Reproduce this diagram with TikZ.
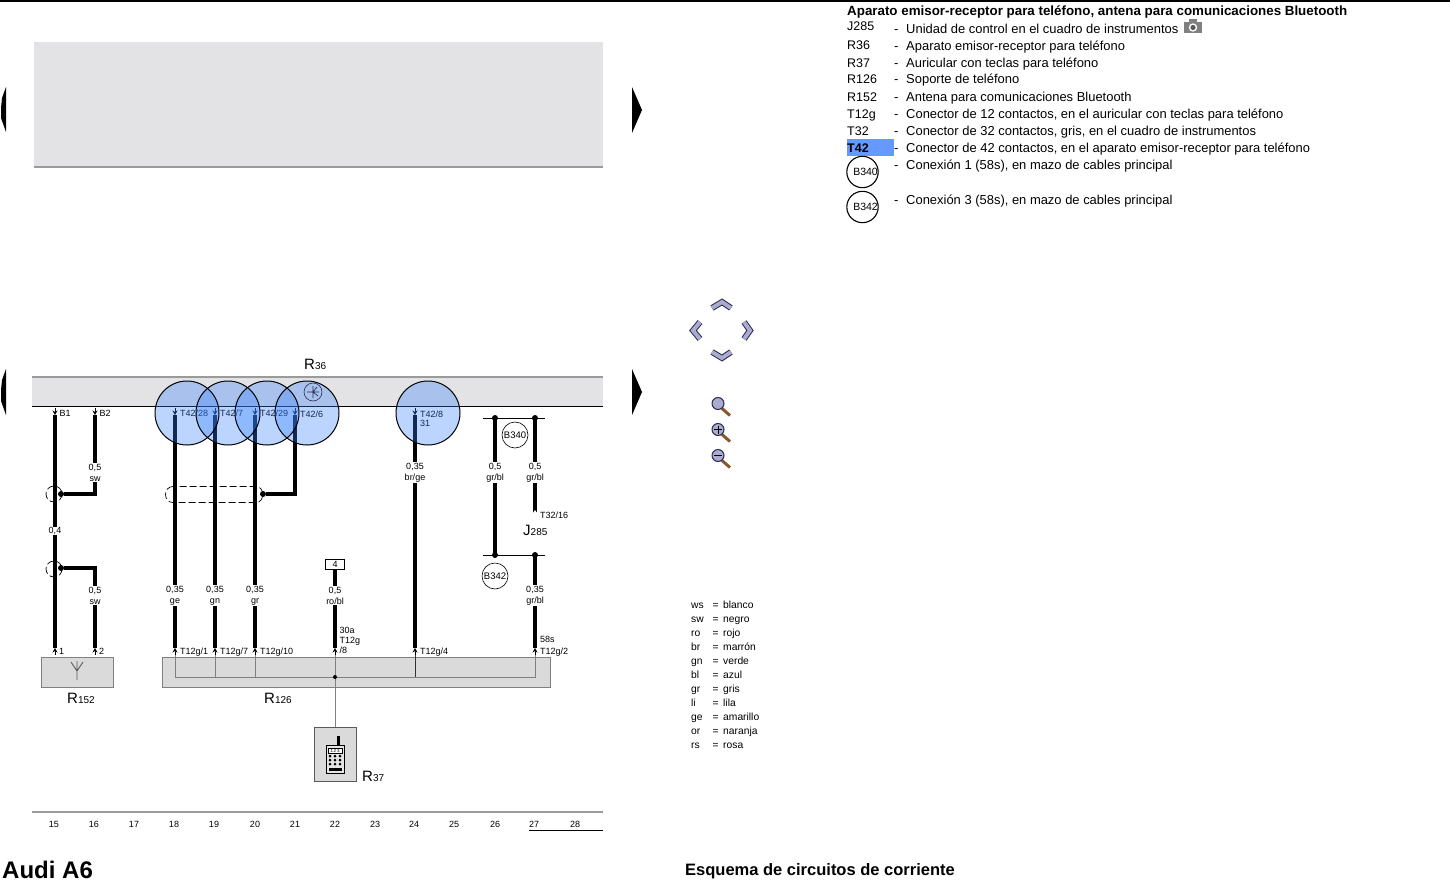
\documentclass[tikz,border=0pt]{standalone}
\usepackage{fontspec}
\setmainfont{Liberation Sans}
\usetikzlibrary{arrows.meta}
\newcommand\fsz[1]{\fontsize{#1}{#1}\selectfont}
\newcommand\refdes[2]{{\fsz{15}#1\fsz{10}#2}}
\definecolor{stipple}{HTML}{E3E2E5}
\definecolor{boxgray}{HTML}{DADADA}
\definecolor{edgegray}{HTML}{808080}
\definecolor{navedge}{HTML}{2A2A50}
\definecolor{navfill}{HTML}{ABABCF}
\definecolor{hilite}{HTML}{6699FF}
\tikzset{
  wire/.style={line width=4.4pt,black},
  thinw/.style={line width=0.9pt,edgegray},
  pinarrow/.style={line width=0.8pt,-{Stealth[length=4.5pt,width=5pt]}},
  lbl/.style={font=\fsz{9},fill=white,inner sep=0.6pt,align=center},
  tag/.style={font=\fsz{9},inner sep=0pt,anchor=base west},
  wdot/.style={circle,fill=black,inner sep=0pt,minimum size=6pt},
  spot/.style={fill={rgb,255:red,51;green,128;blue,255},fill opacity=0.33},
  code/.style={font=\fsz{12.5},inner sep=0pt,anchor=base west},
  desc/.style={font=\fsz{12.95},inner sep=0pt,anchor=base west},
  col/.style={font=\fsz{10.3},inner sep=0pt,anchor=base west},
  sheet/.style={font=\fsz{9},inner sep=0pt},
  bubble/.style={circle,draw=black,line width=1.1pt,minimum size=30pt,inner sep=0pt,font=\fsz{10.5},text depth=0pt},
  splice/.style={circle,draw=black,line width=0.6pt,minimum size=26pt,inner sep=0pt,font=\fsz{9.5}},
  shield/.style={line width=0.7pt,dash pattern=on 7pt off 3pt,black},
  des/.style={inner sep=0pt,anchor=base west},
  compbox/.style={draw=edgegray,line width=1pt,fill=boxgray},
  chev/.style={line width=6pt,navedge,miter limit=10},
  chevin/.style={line width=4pt,navfill,miter limit=10}
}
\begin{document}
\begin{tikzpicture}[x=1pt,y=-1pt]
\useasboundingbox (0,0) rectangle (1450,883);
\fill[white] (0,0) rectangle (1450,883);
\draw[line width=1.6pt,black] (0,0.8) -- (1450,0.8);

% upper empty sheet
\fill[stipple] (34,42) rectangle (603,167);
\draw[line width=1.2pt,edgegray!80] (34,167) -- (603,167);
\fill[black] (6,87) -- (2,98) -- (1,108) -- (1,118) -- (6,132) -- cycle;
\fill[black] (632,87) -- (642,110) -- (632,133) -- cycle;

% R36 band
\fill[stipple] (32,377) rectangle (603,406);
\draw[line width=1.2pt,edgegray!80] (32,377) -- (603,377);
\draw[line width=1pt,black] (32,406) -- (603,406);
\fill[black] (6,369) -- (2,380) -- (1,390) -- (1,401) -- (6,415) -- cycle;
\fill[black] (632,369) -- (642,392) -- (632,415) -- cycle;
\node[des] (r36) at (304,369) {\refdes{R}{36}};

% component boxes
\node[compbox,minimum width=72pt,minimum height=30pt,inner sep=0pt] (r152) at (77,672) {};
\node[compbox,minimum width=388pt,minimum height=30pt,inner sep=0pt] (r126) at (356,672) {};
\node[compbox,draw=edgegray!70!black,minimum width=42pt,minimum height=54pt,inner sep=0pt] (r37) at (335,754) {};
\node[des] (l152) at (67,703) {\refdes{R}{152}};
\node[des] (l126) at (264,703) {\refdes{R}{126}};
\node[des] (l37) at (362,781) {\refdes{R}{37}};
\node[des] (l285) at (523,535) {\refdes{J}{285}};

% named wire ends
\foreach \n/\x in {a/55,b/95,c/175,d/215,e/255,f/295,g/415,h/535}{
  \coordinate (top\n) at (\x,415);
  \coordinate (pin\n) at (\x,407.5);
}
\foreach \n/\x in {a/55,b/95,c/175,d/215,e/255,k/335,g/415,h/535}{
  \coordinate (bot\n) at (\x,648);
  \coordinate (bin\n) at (\x,655);
}

% wires
\draw[wire] (topa) -- (bota);
\node[wdot] (da) at (61,494) {};
\node[wdot] (db) at (61,568) {};
\node[wdot] (df) at (263,494) {};
\draw[wire] (topb) -- (95,494) -- (da);
\draw[wire] (db) -- (95,568) -- (botb);
\draw[wire] (topc) -- (botc);
\draw[wire] (topd) -- (botd);
\draw[wire] (tope) -- (bote);
\draw[wire] (topf) -- (295,494) -- (df);
\draw[wire] (topg) -- (botg);
\node[draw=black,line width=0.7pt,fill=white,minimum width=19pt,minimum height=10pt,inner sep=0pt,font=\fsz{9}] (n4) at (335,564) {4};
\draw[wire] (n4) -- (botk);

% splices
\coordinate (s340a) at (495,418);
\coordinate (s340b) at (535,418);
\coordinate (s340l) at (483,418);
\coordinate (s340r) at (545,418);
\coordinate (s342a) at (495,555);
\coordinate (s342b) at (535,555);
\coordinate (s342l) at (483,555);
\coordinate (s342r) at (545,555);
\draw[line width=0.7pt] (s340l) -- (s340r);
\draw[line width=0.7pt] (s342l) -- (s342r);
\draw[wire] (s340a) -- (s342a);
\coordinate (t3216) at (535,514);
\draw[wire] (s340b) -- (t3216);
\draw[wire] (s342b) -- (both);
\foreach \c in {s340a,s340b,s342a,s342b}{\fill (\c) circle[radius=3];}
\fill[white] (535,510) -- (531.5,515) -- (538.5,515) -- cycle;
\node[splice] (b340) at (515,435) {B340};
\node[splice] (b342) at (495,576) {B342};

% shields
\draw[shield] (54,494) circle[radius=8];
\draw[shield] (54,569) circle[radius=8];
\draw[shield] (173,486.5) .. controls (163,486.5) and (163,502.5) .. (173,502.5) -- (256,502.5) .. controls (265,502.5) and (265,486.5) .. (256,486.5) -- cycle;

% wire labels
\node[lbl] (w1) at (55,531) {0,4};
\node[lbl] (w2) at (95,472.5) {0,5\\[2pt]sw};
\node[lbl] (w3) at (95,595.5) {0,5\\[2pt]sw};
\node[lbl] (w4) at (175,595.5) {0,35\\[2pt]ge};
\node[lbl] (w5) at (215,595.5) {0,35\\[2pt]gn};
\node[lbl] (w6) at (255,595.5) {0,35\\[2pt]gr};
\node[lbl] (w7) at (335,595.5) {0,5\\[2pt]ro/bl};
\node[lbl] (w8) at (415,472.5) {0,35\\[2pt]br/ge};
\node[lbl] (w9) at (495,472.5) {0,5\\[2pt]gr/bl};
\node[lbl] (w10) at (535,472.5) {0,5\\[2pt]gr/bl};
\node[lbl] (w11) at (535,595.5) {0,35\\[2pt]gr/bl};

% pin arrows and names
\foreach \n in {a,b,c,d,e,f,g}{\draw[pinarrow] (pin\n) -- (top\n);}
\foreach \n in {a,b,c,d,e,k,g,h}{\draw[pinarrow] (bin\n) -- (bot\n);}
\node[tag] (tb1) at (59.5,416) {B1};
\node[tag] (tb2) at (99.5,416) {B2};
\node[tag] (t28) at (180,416) {T42/28};
\node[tag] (t7) at (220,416) {T42/7};
\node[tag] (t29) at (260,416) {T42/29};
\node[tag] (t6) at (300,417) {T42/6};
\node[tag] (t8) at (420,417) {T42/8};
\node[tag] (t31) at (420,426) {31};
\node[tag] (t16) at (540,518) {T32/16};
\node[tag] (p1) at (59,654) {1};
\node[tag] (p2) at (99,654) {2};
\node[tag] (g1) at (180,654) {T12g/1};
\node[tag] (g7) at (220,654) {T12g/7};
\node[tag] (g10) at (260,654) {T12g/10};
\node[tag] (g4) at (420,654) {T12g/4};
\node[tag] (g2) at (540,654) {T12g/2};
\node[tag] (s58) at (540,642) {58s};
\node[tag] (a30) at (339.5,633) {30a};
\node[tag] (g8a) at (339.5,643) {T12g};
\node[tag] (g8b) at (339.5,653) {/8};

% inside the holder
\coordinate (bus1) at (175,677);
\coordinate (bus2) at (215,677);
\coordinate (bus3) at (255,677);
\coordinate (bus4) at (335,677);
\coordinate (bus5) at (415,677);
\coordinate (bus6) at (535,677);
\draw[thinw] (175,655) -- (bus1) -- (bus6) -- (535,655);
\draw[thinw] (215,655) -- (bus2);
\draw[thinw] (255,655) -- (bus3);
\draw[line width=0.7pt,black!80] (415,655) -- (bus5);
\draw[thinw] (335,655) -- (r37.north);
\fill (bus4) circle[radius=2];

% antenna in R152
\draw[line width=0.9pt,edgegray!70!black] (77,680) -- (77,671) (71,662) -- (77,671) -- (83,662) (77,671) -- (77,661);

% telephone in R37
\fill[black] (336.5,736) rectangle (339.5,746);
\draw[line width=0.8pt,black,fill=boxgray!70] (326,745) rectangle (344,773);
\draw[line width=0.6pt,black,fill=white] (328,748) rectangle (342,753);
\node[font=\fsz{4.5},inner sep=0pt] (keys) at (335,750.5) {1\,2\,3};
\foreach \x in {330,335,340}{\foreach \y in {756,760,764}{\fill (\x,\y) circle[radius=1.5];}}
\fill (329,768) rectangle (342,771);

% blue highlight circles
\fill[spot] (187,413) circle[radius=32];
\fill[spot] (228,413) circle[radius=32];
\fill[spot] (267,413) circle[radius=32];
\fill[spot] (307,413) circle[radius=32];
\fill[spot] (428,413) circle[radius=32];
\foreach \x in {187,228,267,307,428}{\draw[line width=1pt,black] (\x,413) circle[radius=32];}

% receiver symbol in R36
\draw[line width=0.6pt,navedge] (313,392) circle[radius=9];
\draw[line width=0.7pt,navedge] (313,386) -- (313,398) (307,392) -- (319,392) (313,392) -- (318,396) (313,392) -- (317,387);

% bottom scale
\draw[line width=1.2pt,edgegray!80] (32,812) -- (603,812);
\foreach \t/\x in {15/54,16/94,17/134,18/174,19/214,20/255,21/295,22/335,23/375,24/414,25/454,26/495,27/534,28/575}{
  \node[sheet] (n\t) at (\x,824) {\t};
}
\draw[line width=0.9pt,black] (529,830) -- (603,830);

% footer
\node[inner sep=0pt,anchor=base west,font=\fsz{24}\bfseries] (car) at (2,878) {Audi A6};
\node[inner sep=0pt,anchor=base west,font=\fsz{16.5}\bfseries] (kind) at (685,875) {Esquema de circuitos de corriente};

% legend
\node[inner sep=0pt,anchor=base west,font=\fsz{13.35}\bfseries] (title) at (847,15.5) {Aparato emisor-receptor para teléfono, antena para comunicaciones Bluetooth};
\fill[hilite] (847,139) rectangle (894,155.5);
\foreach \y/\d/\c/\m [count=\i] in {
 31/33.5/J285/Unidad de control en el cuadro de instrumentos,
 50/50.5/R36/Aparato emisor-receptor para teléfono,
 67/67/R37/Auricular con teclas para teléfono,
 84/84/R126/Soporte de teléfono,
 101/101/R152/Antena para comunicaciones Bluetooth,
 118/118.5/T12g/{Conector de 12 contactos, en el auricular con teclas para teléfono},
 135/135.5/T32/{Conector de 32 contactos, gris, en el cuadro de instrumentos}}{
  \node[code] (c\i) at (847,\y) {\c};
  \node[desc] (m\i) at (894,\d) {-\hspace{7.7pt}\m};
}
\node[code] (c8) at (847,152) {\bfseries T42};
\node[desc] (m8) at (894,152.5) {-\hspace{7.7pt}Conector de 42 contactos, en el aparato emisor-receptor para teléfono};
\node[bubble] (c9) at (862.5,172) {\hspace*{6pt}B340};
\node[desc] (m9) at (894,169.5) {-\hspace{7.7pt}Conexión 1 (58s), en mazo de cables principal};
\node[bubble] (c10) at (862.5,207) {\hspace*{6pt}B342};
\node[desc] (m10) at (894,204.5) {-\hspace{7.7pt}Conexión 3 (58s), en mazo de cables principal};

% camera icon
\fill[edgegray] (1184,22) rectangle (1202,33);
\fill[edgegray] (1189,19.5) rectangle (1197,22.5);
\fill[white] (1193,27.5) circle[radius=4.2];
\fill[edgegray!70!black] (1193,27.5) circle[radius=2.6];

% navigation
\draw[chev] (712,308) -- (722,302) -- (731,308);
\draw[chevin] (712,308) -- (722,302) -- (731,308);
\draw[chev] (712,352) -- (722,358) -- (731,352);
\draw[chevin] (712,352) -- (722,358) -- (731,352);
\draw[chev] (700,322) -- (693,330.5) -- (700,339);
\draw[chevin] (700,322) -- (693,330.5) -- (700,339);
\draw[chev] (744,322) -- (750,330.5) -- (744,339);
\draw[chevin] (744,322) -- (750,330.5) -- (744,339);
\foreach \y in {403.5,429.5,455.5}{
  \draw[line width=3pt,brown!70!black] (722,\y+5) -- (730,\y+12);
  \draw[line width=1pt,navedge,fill=navfill] (718,\y) circle[radius=6];
}
\draw[line width=1pt,black] (714,429.5) -- (722,429.5) (718,425.5) -- (718,433.5);
\draw[line width=1pt,black] (714,455.5) -- (722,455.5);

% colour key
\foreach \y/\a/\b [count=\i] in {608/ws/blanco,622/sw/negro,636/ro/rojo,650/br/marrón,664/gn/verde,678/bl/azul,692/gr/gris,706/li/lila,720/ge/amarillo,734/or/naranja,748/rs/rosa}{
  \node[col] (ka\i) at (691,\y) {\a};
  \node[col] (ke\i) at (712.5,\y) {=};
  \node[col] (kb\i) at (723,\y) {\b};
}
\end{tikzpicture}
\end{document}
